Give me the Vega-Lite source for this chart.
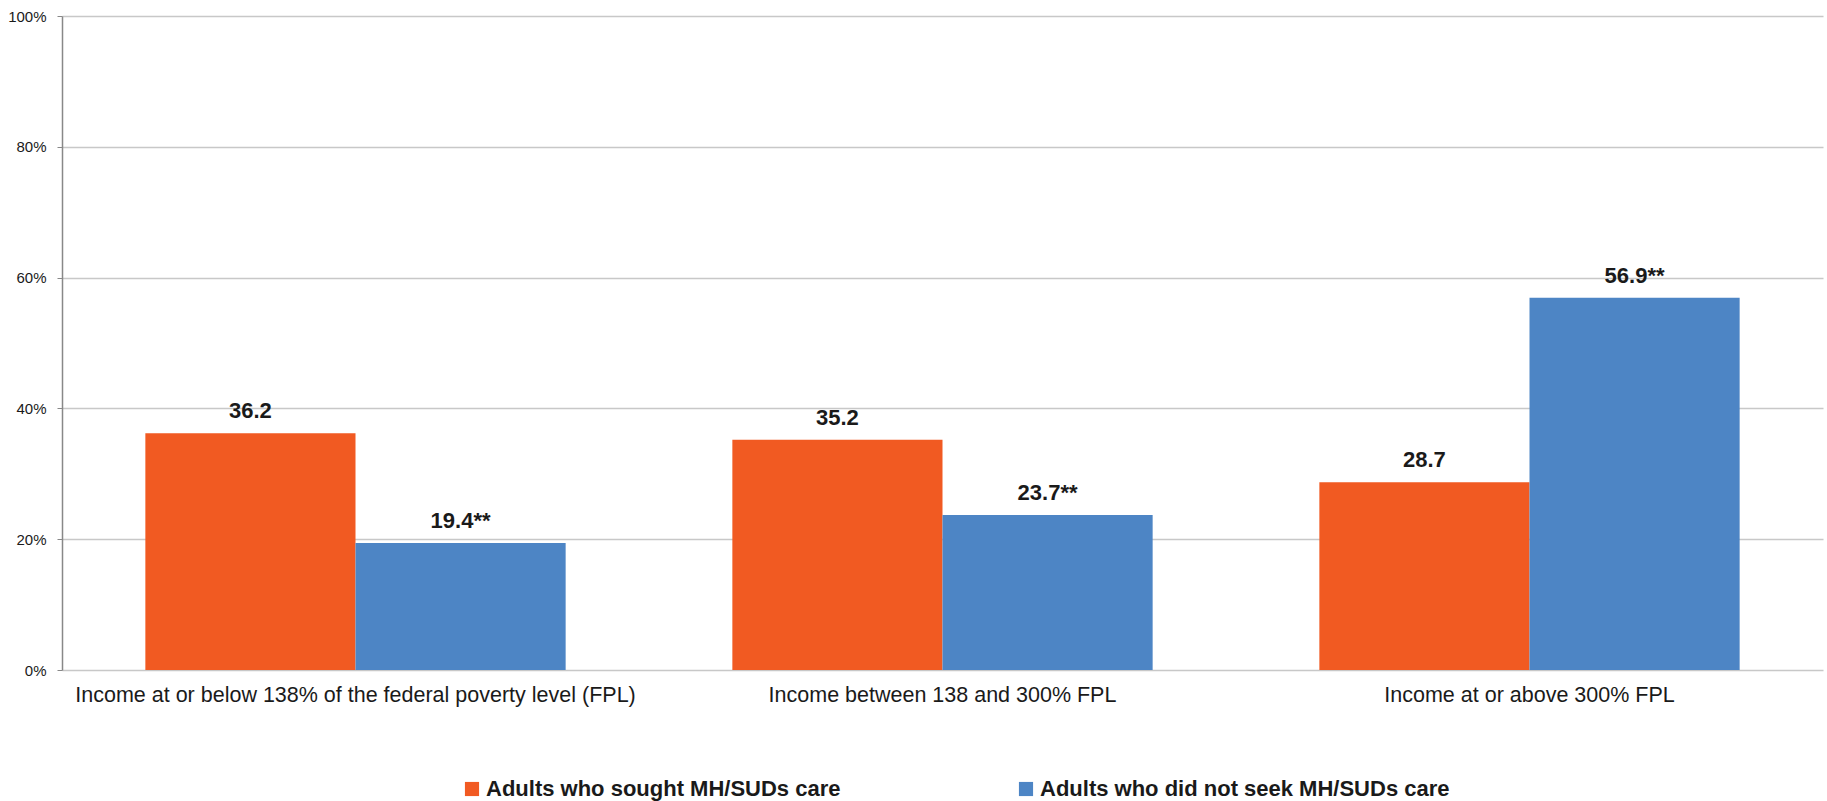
{
  "$schema": "https://vega.github.io/schema/vega-lite/v6.json",
  "autosize": "none",
  "width": 1761,
  "height": 654,
  "padding": {"left": 62, "top": 16, "right": 4, "bottom": 131},
  "background": "white",
  "data": {
    "values": [
      {"group": "Income at or below 138% of the federal poverty level (FPL)", "series": "Adults who sought MH/SUDs care", "value": 36.2, "label": "36.2"},
      {"group": "Income at or below 138% of the federal poverty level (FPL)", "series": "Adults who did not seek MH/SUDs care", "value": 19.4, "label": "19.4**"},
      {"group": "Income between 138 and 300% FPL", "series": "Adults who sought MH/SUDs care", "value": 35.2, "label": "35.2"},
      {"group": "Income between 138 and 300% FPL", "series": "Adults who did not seek MH/SUDs care", "value": 23.7, "label": "23.7**"},
      {"group": "Income at or above 300% FPL", "series": "Adults who sought MH/SUDs care", "value": 28.7, "label": "28.7"},
      {"group": "Income at or above 300% FPL", "series": "Adults who did not seek MH/SUDs care", "value": 56.9, "label": "56.9**"}
    ]
  },
  "encoding": {
    "x": {
      "field": "group", "type": "nominal", "sort": null,
      "scale": {"paddingInner": 0.284, "paddingOuter": 0.142},
      "axis": {
        "title": null, "labelAngle": 0, "ticks": false, "domain": false,
        "labelFont": "Liberation Sans, Arial, sans-serif",
        "labelFontSize": 21.5, "labelColor": "#1a1a1a", "labelPadding": 14, "labelLimit": 700
      }
    },
    "xOffset": {
      "field": "series", "type": "nominal", "sort": ["Adults who sought MH/SUDs care", "Adults who did not seek MH/SUDs care"]
    },
    "y": {
      "field": "value", "type": "quantitative",
      "scale": {"domain": [0, 100], "nice": false},
      "axis": {
        "title": null, "values": [0, 20, 40, 60, 80, 100],
        "labelExpr": "datum.value + '%'",
        "labelFont": "Liberation Sans, Arial, sans-serif",
        "labelFontSize": 15, "labelColor": "#1a1a1a",
        "grid": true, "gridColor": "#c8c8c8", "gridWidth": 1.5,
        "domainColor": "#888888", "domainWidth": 1.5,
        "tickColor": "#888888", "tickSize": 5, "labelPadding": 11
      }
    }
  },
  "layer": [
    {
      "mark": {"type": "bar"},
      "encoding": {
        "color": {
          "field": "series", "type": "nominal",
          "sort": ["Adults who sought MH/SUDs care", "Adults who did not seek MH/SUDs care"],
          "scale": {"domain": ["Adults who sought MH/SUDs care", "Adults who did not seek MH/SUDs care"], "range": ["#F15A22", "#4D85C5"]},
          "legend": {
            "title": null, "orient": "none", "direction": "horizontal",
            "legendX": 399, "legendY": 762,
            "symbolType": "square", "symbolSize": 200, "symbolStrokeWidth": 0,
            "labelFont": "Liberation Sans, Arial, sans-serif",
            "labelFontSize": 22, "labelFontWeight": "bold", "labelColor": "#1a1a1a",
            "labelOffset": 3, "columnPadding": 174, "labelLimit": 600
          }
        }
      }
    },
    {
      "mark": {
        "type": "text", "baseline": "bottom", "dy": -10,
        "font": "Liberation Sans, Arial, sans-serif",
        "fontSize": 22, "fontWeight": "bold", "color": "#1a1a1a"
      },
      "encoding": {"text": {"field": "label"}}
    }
  ],
  "config": {"view": {"stroke": null}}
}
